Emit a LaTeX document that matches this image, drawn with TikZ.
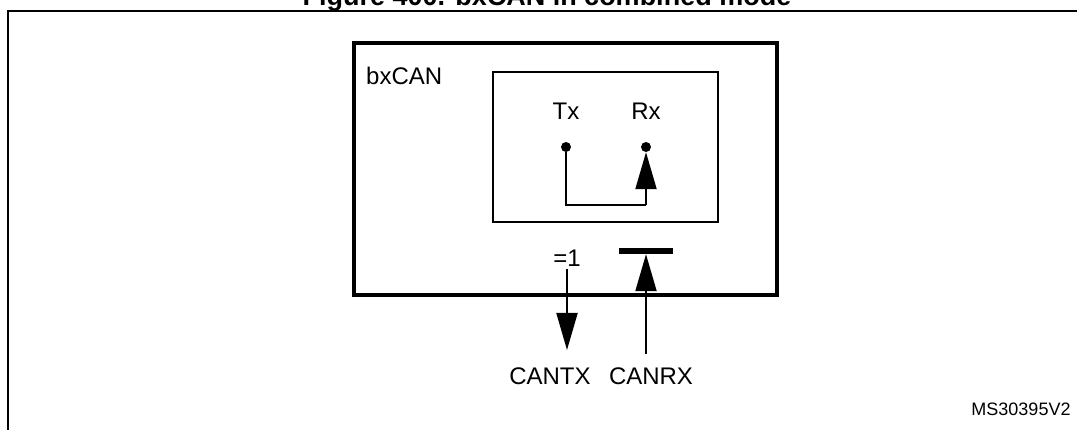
\documentclass[tikz,border=0pt]{standalone}
\usepackage{fontspec}
\setmainfont{Liberation Sans}
\usetikzlibrary{arrows.meta}
\begin{document}
\begin{tikzpicture}[x=1pt,y=-1pt,
  lbl/.style={font=\fontsize{24}{28}\selectfont, inner sep=0pt},
  dot/.style={circle,fill=black,inner sep=0pt,minimum size=10pt},
  big/.style={-{Triangle[length=37pt,width=21pt]}, line width=2pt}]
\useasboundingbox (0,0) rectangle (1077,430);
\clip (0,0) rectangle (1077,430);
\node[font=\bfseries\fontsize{27}{30}\selectfont, inner sep=0pt] (title) at (547,-1) {Figure 400. bxCAN in combined mode};
\draw[line width=2pt] (8,440) -- (8,11) -- (1085,11);
\draw[line width=4pt] (354,43) rectangle (777,295);
\draw[line width=2pt] (493,72) rectangle (718,222);
\node[lbl, anchor=west] (bx) at (366,76) {bxCAN};
\node[lbl] (txl) at (566,111) {Tx};
\node[lbl] (rxl) at (646,111) {Rx};
\node[dot] (tx) at (566,147) {};
\node[dot] (rx) at (646,147) {};
\coordinate (c1) at (566,205);
\coordinate (c2) at (646,205);
\draw[line width=2pt] (tx) -- (c1) -- (c2);
\draw[big] (c2) -- (rx.south);
\node[lbl] (eq) at (567,258) {=1};
\node[lbl] (cantx) at (550,376) {CANTX};
\node[lbl] (canrx) at (651,376) {CANRX};
\draw[big] (567,269) -- (567,350);
\node[fill=black, minimum width=54pt, minimum height=6pt, inner sep=0pt] (bar) at (646,251) {};
\draw[big] (646,354) -- (bar.south);
\node[font=\fontsize{18}{20}\selectfont, inner sep=0pt] (ms) at (1021,409) {MS30395V2};
\end{tikzpicture}
\end{document}
